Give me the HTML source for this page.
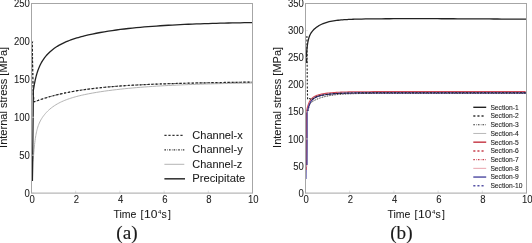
<!DOCTYPE html>
<html><head><meta charset="utf-8"><style>
html,body{margin:0;padding:0;background:#fff;}
body{width:532px;height:243px;overflow:hidden;}
svg{display:block;will-change:transform;}

</style></head><body>
<svg width="532" height="243" viewBox="0 0 532 243">
<rect width="532" height="243" fill="#fff"/>
<g class="t" font-family='"Liberation Sans", sans-serif' font-size="10.3" fill="#1a1a1a" stroke="#1a1a1a" stroke-width="0.06">
<path d="M32.40,181.00 L32.90,162.00 L33.30,159.56 L33.55,155.91 L33.80,152.63 L34.05,149.68 L34.30,147.02 L34.55,144.62 L34.80,142.45 L35.05,140.48 L35.30,138.68 L35.55,137.05 L35.80,135.56 L36.05,134.19 L36.30,132.93 L36.55,131.76 L36.80,130.69 L37.05,129.69 L37.30,128.76 L37.80,127.08 L38.30,125.60 L38.80,124.27 L39.30,123.08 L39.80,121.99 L40.30,120.99 L40.80,120.06 L41.30,119.19 L41.80,118.37 L42.30,117.60 L42.80,116.87 L43.30,116.17 L43.80,115.50 L44.30,114.86 L44.80,114.25 L45.30,113.66 L45.80,113.09 L46.30,112.54 L46.80,112.01 L47.30,111.50 L47.80,111.01 L48.30,110.53 L49.80,109.17 L51.30,107.94 L52.80,106.81 L54.30,105.77 L55.80,104.81 L57.30,103.93 L58.80,103.11 L60.30,102.34 L61.80,101.63 L63.30,100.97 L64.80,100.34 L66.30,99.76 L67.80,99.21 L69.30,98.68 L70.80,98.19 L72.30,97.72 L73.80,97.28 L75.30,96.86 L76.80,96.45 L78.30,96.06 L79.80,95.69 L81.30,95.34 L82.80,95.00 L84.30,94.67 L88.30,93.85 L92.30,93.10 L96.30,92.41 L100.30,91.77 L104.30,91.18 L108.30,90.63 L112.30,90.11 L116.30,89.63 L120.30,89.18 L124.30,88.76 L128.30,88.36 L132.30,87.99 L136.30,87.64 L140.30,87.31 L144.30,87.00 L148.30,86.71 L152.30,86.44 L156.30,86.18 L160.30,85.94 L164.30,85.71 L168.30,85.50 L172.30,85.30 L176.30,85.11 L180.30,84.93 L184.30,84.76 L188.30,84.60 L192.30,84.45 L196.30,84.32 L200.30,84.18 L204.30,84.06 L208.30,83.94 L212.30,83.83 L216.30,83.73 L220.30,83.63 L224.30,83.54 L228.30,83.46 L232.30,83.38 L236.30,83.30 L240.30,83.23 L244.30,83.16 L248.30,83.10 L252.00,83.04" fill="none" stroke="#b4b4b4" stroke-width="1"/>
<path d="M32.30,41.00 L32.50,60.00 L32.90,80.00 L33.40,95.00 L33.90,101.47 L34.15,101.68 L34.40,101.72 L34.65,101.67 L34.90,101.60 L35.15,101.51 L35.40,101.42 L35.65,101.33 L35.90,101.24 L36.15,101.14 L36.40,101.05 L36.65,100.96 L36.90,100.86 L37.15,100.77 L37.40,100.68 L37.65,100.59 L37.90,100.50 L38.40,100.32 L38.90,100.14 L39.40,99.97 L39.90,99.79 L40.40,99.62 L40.90,99.45 L41.40,99.28 L41.90,99.11 L42.40,98.95 L42.90,98.79 L43.40,98.62 L43.90,98.46 L44.40,98.30 L44.90,98.15 L45.40,97.99 L45.90,97.84 L46.40,97.69 L46.90,97.54 L47.40,97.39 L47.90,97.24 L48.40,97.09 L48.90,96.95 L50.40,96.52 L51.90,96.11 L53.40,95.71 L54.90,95.32 L56.40,94.94 L57.90,94.58 L59.40,94.22 L60.90,93.88 L62.40,93.55 L63.90,93.22 L65.40,92.91 L66.90,92.61 L68.40,92.31 L69.90,92.02 L71.40,91.74 L72.90,91.47 L74.40,91.21 L75.90,90.96 L77.40,90.71 L78.90,90.47 L80.40,90.24 L81.90,90.01 L83.40,89.80 L84.90,89.58 L88.90,89.05 L92.90,88.55 L96.90,88.09 L100.90,87.66 L104.90,87.27 L108.90,86.91 L112.90,86.57 L116.90,86.25 L120.90,85.96 L124.90,85.69 L128.90,85.44 L132.90,85.21 L136.90,84.99 L140.90,84.79 L144.90,84.60 L148.90,84.42 L152.90,84.25 L156.90,84.10 L160.90,83.95 L164.90,83.82 L168.90,83.69 L172.90,83.57 L176.90,83.45 L180.90,83.35 L184.90,83.25 L188.90,83.15 L192.90,83.06 L196.90,82.97 L200.90,82.89 L204.90,82.81 L208.90,82.73 L212.90,82.66 L216.90,82.59 L220.90,82.53 L224.90,82.46 L228.90,82.40 L232.90,82.34 L236.90,82.28 L240.90,82.23 L244.90,82.17 L248.90,82.12 L252.00,82.08" fill="none" stroke="#666" stroke-width="1.0" stroke-dasharray="1.6,1.3,0.6,1.1"/>
<path d="M32.30,41.00 L32.50,60.00 L32.90,80.00 L33.40,95.00 L33.90,101.47 L34.15,101.68 L34.40,101.72 L34.65,101.67 L34.90,101.60 L35.15,101.51 L35.40,101.42 L35.65,101.33 L35.90,101.24 L36.15,101.14 L36.40,101.05 L36.65,100.96 L36.90,100.86 L37.15,100.77 L37.40,100.68 L37.65,100.59 L37.90,100.50 L38.40,100.32 L38.90,100.14 L39.40,99.97 L39.90,99.79 L40.40,99.62 L40.90,99.45 L41.40,99.28 L41.90,99.11 L42.40,98.95 L42.90,98.79 L43.40,98.62 L43.90,98.46 L44.40,98.30 L44.90,98.15 L45.40,97.99 L45.90,97.84 L46.40,97.69 L46.90,97.54 L47.40,97.39 L47.90,97.24 L48.40,97.09 L48.90,96.95 L50.40,96.52 L51.90,96.11 L53.40,95.71 L54.90,95.32 L56.40,94.94 L57.90,94.58 L59.40,94.22 L60.90,93.88 L62.40,93.55 L63.90,93.22 L65.40,92.91 L66.90,92.61 L68.40,92.31 L69.90,92.02 L71.40,91.74 L72.90,91.47 L74.40,91.21 L75.90,90.96 L77.40,90.71 L78.90,90.47 L80.40,90.24 L81.90,90.01 L83.40,89.80 L84.90,89.58 L88.90,89.05 L92.90,88.55 L96.90,88.09 L100.90,87.66 L104.90,87.27 L108.90,86.91 L112.90,86.57 L116.90,86.25 L120.90,85.96 L124.90,85.69 L128.90,85.44 L132.90,85.21 L136.90,84.99 L140.90,84.79 L144.90,84.60 L148.90,84.42 L152.90,84.25 L156.90,84.10 L160.90,83.95 L164.90,83.82 L168.90,83.69 L172.90,83.57 L176.90,83.45 L180.90,83.35 L184.90,83.25 L188.90,83.15 L192.90,83.06 L196.90,82.97 L200.90,82.89 L204.90,82.81 L208.90,82.73 L212.90,82.66 L216.90,82.59 L220.90,82.53 L224.90,82.46 L228.90,82.40 L232.90,82.34 L236.90,82.28 L240.90,82.23 L244.90,82.17 L248.90,82.12 L252.00,82.08" fill="none" stroke="#222" stroke-width="1.2" stroke-dasharray="2.2,1.8"/>
<path d="M32.40,181.00 L32.90,140.00 L33.20,110.00 L33.30,90.77 L33.55,89.12 L33.80,87.56 L34.05,86.08 L34.30,84.68 L34.55,83.35 L34.80,82.09 L35.05,80.89 L35.30,79.75 L35.55,78.66 L35.80,77.62 L36.05,76.63 L36.30,75.69 L36.55,74.78 L36.80,73.91 L37.05,73.09 L37.30,72.29 L37.80,70.79 L38.30,69.40 L38.80,68.12 L39.30,66.91 L39.80,65.79 L40.30,64.74 L40.80,63.75 L41.30,62.81 L41.80,61.92 L42.30,61.08 L42.80,60.29 L43.30,59.52 L43.80,58.80 L44.30,58.10 L44.80,57.43 L45.30,56.79 L45.80,56.18 L46.30,55.58 L46.80,55.01 L47.30,54.46 L47.80,53.93 L48.30,53.41 L49.80,51.96 L51.30,50.64 L52.80,49.43 L54.30,48.31 L55.80,47.28 L57.30,46.32 L58.80,45.42 L60.30,44.59 L61.80,43.80 L63.30,43.07 L64.80,42.37 L66.30,41.72 L67.80,41.10 L69.30,40.51 L70.80,39.95 L72.30,39.42 L73.80,38.91 L75.30,38.42 L76.80,37.95 L78.30,37.51 L79.80,37.08 L81.30,36.67 L82.80,36.27 L84.30,35.88 L88.30,34.93 L92.30,34.05 L96.30,33.24 L100.30,32.49 L104.30,31.80 L108.30,31.16 L112.30,30.55 L116.30,29.99 L120.30,29.47 L124.30,28.98 L128.30,28.52 L132.30,28.09 L136.30,27.69 L140.30,27.31 L144.30,26.96 L148.30,26.63 L152.30,26.32 L156.30,26.03 L160.30,25.76 L164.30,25.50 L168.30,25.26 L172.30,25.03 L176.30,24.82 L180.30,24.63 L184.30,24.44 L188.30,24.27 L192.30,24.10 L196.30,23.95 L200.30,23.80 L204.30,23.67 L208.30,23.54 L212.30,23.42 L216.30,23.31 L220.30,23.21 L224.30,23.11 L228.30,23.02 L232.30,22.93 L236.30,22.85 L240.30,22.78 L244.30,22.71 L248.30,22.64 L252.00,22.58" fill="none" stroke="#222" stroke-width="1.3"/>
<line x1="31.50" y1="193.10" x2="34.00" y2="193.10" stroke="#dcdcdc" stroke-width="0.7"/>
<line x1="31.50" y1="155.18" x2="34.00" y2="155.18" stroke="#dcdcdc" stroke-width="0.7"/>
<line x1="31.50" y1="117.26" x2="34.00" y2="117.26" stroke="#dcdcdc" stroke-width="0.7"/>
<line x1="31.50" y1="79.34" x2="34.00" y2="79.34" stroke="#dcdcdc" stroke-width="0.7"/>
<line x1="31.50" y1="41.42" x2="34.00" y2="41.42" stroke="#dcdcdc" stroke-width="0.7"/>
<line x1="31.50" y1="3.50" x2="34.00" y2="3.50" stroke="#dcdcdc" stroke-width="0.7"/>
<line x1="31.50" y1="193.10" x2="31.50" y2="190.60" stroke="#d4d4d4" stroke-width="0.7"/>
<line x1="75.70" y1="193.10" x2="75.70" y2="190.60" stroke="#d4d4d4" stroke-width="0.7"/>
<line x1="119.90" y1="193.10" x2="119.90" y2="190.60" stroke="#d4d4d4" stroke-width="0.7"/>
<line x1="164.10" y1="193.10" x2="164.10" y2="190.60" stroke="#d4d4d4" stroke-width="0.7"/>
<line x1="208.30" y1="193.10" x2="208.30" y2="190.60" stroke="#d4d4d4" stroke-width="0.7"/>
<line x1="252.50" y1="193.10" x2="252.50" y2="190.60" stroke="#d4d4d4" stroke-width="0.7"/>
<rect x="31.50" y="3.50" width="221.00" height="189.60" fill="none" stroke="#a6a6a6" stroke-width="1"/>
<text x="29.9" y="196.75" text-anchor="end" textLength="5.3" lengthAdjust="spacingAndGlyphs">0</text>
<text x="29.9" y="158.83" text-anchor="end" textLength="10.6" lengthAdjust="spacingAndGlyphs">50</text>
<text x="29.9" y="120.91" text-anchor="end" textLength="15.9" lengthAdjust="spacingAndGlyphs">100</text>
<text x="29.9" y="82.99" text-anchor="end" textLength="15.9" lengthAdjust="spacingAndGlyphs">150</text>
<text x="29.9" y="45.07" text-anchor="end" textLength="15.9" lengthAdjust="spacingAndGlyphs">200</text>
<text x="29.9" y="7.15" text-anchor="end" textLength="15.9" lengthAdjust="spacingAndGlyphs">250</text>
<text x="32.20" y="203.0" text-anchor="middle" textLength="5.3" lengthAdjust="spacingAndGlyphs">0</text>
<text x="76.40" y="203.0" text-anchor="middle" textLength="5.3" lengthAdjust="spacingAndGlyphs">2</text>
<text x="120.60" y="203.0" text-anchor="middle" textLength="5.3" lengthAdjust="spacingAndGlyphs">4</text>
<text x="164.80" y="203.0" text-anchor="middle" textLength="5.3" lengthAdjust="spacingAndGlyphs">6</text>
<text x="209.00" y="203.0" text-anchor="middle" textLength="5.3" lengthAdjust="spacingAndGlyphs">8</text>
<text x="253.20" y="203.0" text-anchor="middle" textLength="10.6" lengthAdjust="spacingAndGlyphs">10</text>
<path d="M306.70,63.00 L306.60,52.66 L306.85,49.87 L307.10,47.50 L307.35,45.47 L307.60,43.74 L307.85,42.24 L308.10,40.94 L308.35,39.81 L308.60,38.81 L308.85,37.93 L309.10,37.15 L309.35,36.45 L309.60,35.81 L309.85,35.23 L310.10,34.70 L310.35,34.21 L310.60,33.75 L311.10,32.93 L311.60,32.19 L312.10,31.53 L312.60,30.92 L313.10,30.35 L313.60,29.82 L314.10,29.32 L314.60,28.85 L315.10,28.41 L315.60,27.99 L316.10,27.59 L316.60,27.21 L317.10,26.84 L317.60,26.50 L318.10,26.17 L318.60,25.85 L319.10,25.55 L319.60,25.26 L320.10,24.99 L320.60,24.73 L321.10,24.48 L321.60,24.24 L323.10,23.59 L324.60,23.02 L326.10,22.53 L327.60,22.09 L329.10,21.71 L330.60,21.38 L332.10,21.09 L333.60,20.84 L335.10,20.61 L336.60,20.41 L338.10,20.24 L339.60,20.08 L341.10,19.95 L342.60,19.82 L344.10,19.72 L345.60,19.62 L347.10,19.53 L348.60,19.46 L350.10,19.39 L351.60,19.33 L353.10,19.27 L354.60,19.22 L356.10,19.17 L357.60,19.13 L361.60,19.03 L365.60,18.96 L369.60,18.90 L373.60,18.85 L377.60,18.81 L381.60,18.78 L385.60,18.75 L389.60,18.73 L393.60,18.71 L397.60,18.70 L401.60,18.69 L405.60,18.68 L409.60,18.68 L413.60,18.68 L417.60,18.68 L421.60,18.68 L425.60,18.69 L429.60,18.70 L433.60,18.70 L437.60,18.72 L441.60,18.73 L445.60,18.74 L449.60,18.76 L453.60,18.77 L457.60,18.79 L461.60,18.81 L465.60,18.83 L469.60,18.85 L473.60,18.87 L477.60,18.89 L481.60,18.91 L485.60,18.94 L489.60,18.96 L493.60,18.98 L497.60,19.01 L501.60,19.03 L505.60,19.06 L509.60,19.09 L513.60,19.11 L517.60,19.14 L521.60,19.17 L525.60,19.20 L526.00,19.20" fill="none" stroke="#222" stroke-width="1.3"/>
<path d="M308.20,110.76 L308.45,109.27 L308.70,108.05 L308.95,107.04 L309.20,106.20 L309.45,105.49 L309.70,104.90 L309.95,104.39 L310.20,103.96 L310.45,103.58 L310.70,103.25 L310.95,102.95 L311.20,102.68 L311.45,102.44 L311.70,102.21 L311.95,102.01 L312.20,101.81 L312.70,101.45 L313.20,101.13 L313.70,100.83 L314.20,100.55 L314.70,100.28 L315.20,100.02 L315.70,99.78 L316.20,99.54 L316.70,99.32 L317.20,99.10 L317.70,98.89 L318.20,98.69 L318.70,98.49 L319.20,98.30 L319.70,98.12 L320.20,97.94 L320.70,97.78 L321.20,97.61 L321.70,97.45 L322.20,97.30 L322.70,97.16 L323.20,97.01 L324.70,96.62 L326.20,96.26 L327.70,95.94 L329.20,95.66 L330.70,95.40 L332.20,95.17 L333.70,94.97 L335.20,94.79 L336.70,94.62 L338.20,94.48 L339.70,94.35 L341.20,94.23 L342.70,94.13 L344.20,94.04 L345.70,93.95 L347.20,93.88 L348.70,93.82 L350.20,93.76 L351.70,93.71 L353.20,93.67 L354.70,93.63 L356.20,93.60 L357.70,93.57 L359.20,93.54 L363.20,93.49 L367.20,93.45 L371.20,93.42 L375.20,93.41 L379.20,93.40 L383.20,93.40 L387.20,93.39 L391.20,93.39 L395.20,93.40 L399.20,93.40 L403.20,93.40 L407.20,93.40 L411.20,93.41 L415.20,93.41 L419.20,93.41 L423.20,93.41 L427.20,93.42 L431.20,93.42 L435.20,93.42 L439.20,93.42 L443.20,93.42 L447.20,93.42 L451.20,93.42 L455.20,93.42 L459.20,93.43 L463.20,93.43 L467.20,93.43 L471.20,93.43 L475.20,93.43 L479.20,93.43 L483.20,93.43 L487.20,93.43 L491.20,93.43 L495.20,93.43 L499.20,93.43 L503.20,93.43 L507.20,93.43 L511.20,93.43 L515.20,93.43 L519.20,93.43 L523.20,93.43 L526.00,93.43" fill="none" stroke="#c4c4c4" stroke-width="1"/>
<path d="M308.20,110.76 L308.45,109.27 L308.70,108.05 L308.95,107.04 L309.20,106.20 L309.45,105.49 L309.70,104.90 L309.95,104.39 L310.20,103.96 L310.45,103.58 L310.70,103.25 L310.95,102.95 L311.20,102.68 L311.45,102.44 L311.70,102.21 L311.95,102.01 L312.20,101.81 L312.70,101.45 L313.20,101.13 L313.70,100.83 L314.20,100.55 L314.70,100.28 L315.20,100.02 L315.70,99.78 L316.20,99.54 L316.70,99.32 L317.20,99.10 L317.70,98.89 L318.20,98.69 L318.70,98.49 L319.20,98.30 L319.70,98.12 L320.20,97.94 L320.70,97.78 L321.20,97.61 L321.70,97.45 L322.20,97.30 L322.70,97.16 L323.20,97.01 L324.70,96.62 L326.20,96.26 L327.70,95.94 L329.20,95.66 L330.70,95.40 L332.20,95.17 L333.70,94.97 L335.20,94.79 L336.70,94.62 L338.20,94.48 L339.70,94.35 L341.20,94.23 L342.70,94.13 L344.20,94.04 L345.70,93.95 L347.20,93.88 L348.70,93.82 L350.20,93.76 L351.70,93.71 L353.20,93.67 L354.70,93.63 L356.20,93.60 L357.70,93.57 L359.20,93.54 L363.20,93.49 L367.20,93.45 L371.20,93.42 L375.20,93.41 L379.20,93.40 L383.20,93.40 L387.20,93.39 L391.20,93.39 L395.20,93.40 L399.20,93.40 L403.20,93.40 L407.20,93.40 L411.20,93.41 L415.20,93.41 L419.20,93.41 L423.20,93.41 L427.20,93.42 L431.20,93.42 L435.20,93.42 L439.20,93.42 L443.20,93.42 L447.20,93.42 L451.20,93.42 L455.20,93.42 L459.20,93.43 L463.20,93.43 L467.20,93.43 L471.20,93.43 L475.20,93.43 L479.20,93.43 L483.20,93.43 L487.20,93.43 L491.20,93.43 L495.20,93.43 L499.20,93.43 L503.20,93.43 L507.20,93.43 L511.20,93.43 L515.20,93.43 L519.20,93.43 L523.20,93.43 L526.00,93.43" fill="none" stroke="#333" stroke-width="1" stroke-dasharray="1,1.6"/>
<path d="M306.3,179 L306.5,160" fill="none" stroke="#8a86c4" stroke-width="1.2"/>
<path d="M306.20,170.00 L306.30,140.00 L306.40,112.02 L306.65,110.71 L306.90,109.52 L307.15,108.43 L307.40,107.42 L307.65,106.50 L307.90,105.66 L308.15,104.88 L308.40,104.17 L308.65,103.51 L308.90,102.90 L309.15,102.34 L309.40,101.83 L309.65,101.35 L309.90,100.91 L310.15,100.49 L310.40,100.11 L310.90,99.43 L311.40,98.83 L311.90,98.31 L312.40,97.86 L312.90,97.45 L313.40,97.09 L313.90,96.77 L314.40,96.48 L314.90,96.22 L315.40,95.98 L315.90,95.76 L316.40,95.56 L316.90,95.37 L317.40,95.19 L317.90,95.03 L318.40,94.88 L318.90,94.74 L319.40,94.60 L319.90,94.48 L320.40,94.36 L320.90,94.24 L321.40,94.13 L322.90,93.84 L324.40,93.58 L325.90,93.36 L327.40,93.16 L328.90,92.99 L330.40,92.83 L331.90,92.69 L333.40,92.57 L334.90,92.47 L336.40,92.37 L337.90,92.29 L339.40,92.21 L340.90,92.15 L342.40,92.09 L343.90,92.04 L345.40,91.99 L346.90,91.95 L348.40,91.91 L349.90,91.88 L351.40,91.85 L352.90,91.83 L354.40,91.80 L355.90,91.78 L357.40,91.77 L361.40,91.73 L365.40,91.70 L369.40,91.68 L373.40,91.67 L377.40,91.65 L381.40,91.65 L385.40,91.64 L389.40,91.64 L393.40,91.63 L397.40,91.63 L401.40,91.63 L405.40,91.63 L409.40,91.63 L413.40,91.63 L417.40,91.63 L421.40,91.63 L425.40,91.63 L429.40,91.63 L433.40,91.63 L437.40,91.63 L441.40,91.63 L445.40,91.63 L449.40,91.63 L453.40,91.63 L457.40,91.63 L461.40,91.63 L465.40,91.63 L469.40,91.63 L473.40,91.63 L477.40,91.63 L481.40,91.63 L485.40,91.63 L489.40,91.63 L493.40,91.63 L497.40,91.63 L501.40,91.63 L505.40,91.63 L509.40,91.63 L513.40,91.63 L517.40,91.63 L521.40,91.63 L525.40,91.63 L525.60,91.63" fill="none" stroke="#d04a58" stroke-width="1.1"/>
<path d="M307.00,165.00 L307.10,140.00 L307.10,113.17 L307.35,111.86 L307.60,110.67 L307.85,109.58 L308.10,108.57 L308.35,107.65 L308.60,106.81 L308.85,106.03 L309.10,105.32 L309.35,104.66 L309.60,104.05 L309.85,103.49 L310.10,102.98 L310.35,102.50 L310.60,102.06 L310.85,101.64 L311.10,101.26 L311.60,100.58 L312.10,99.98 L312.60,99.46 L313.10,99.01 L313.60,98.60 L314.10,98.24 L314.60,97.92 L315.10,97.63 L315.60,97.37 L316.10,97.13 L316.60,96.91 L317.10,96.71 L317.60,96.52 L318.10,96.34 L318.60,96.18 L319.10,96.03 L319.60,95.89 L320.10,95.75 L320.60,95.63 L321.10,95.51 L321.60,95.39 L322.10,95.28 L323.60,94.99 L325.10,94.73 L326.60,94.51 L328.10,94.31 L329.60,94.14 L331.10,93.98 L332.60,93.84 L334.10,93.72 L335.60,93.62 L337.10,93.52 L338.60,93.44 L340.10,93.36 L341.60,93.30 L343.10,93.24 L344.60,93.19 L346.10,93.14 L347.60,93.10 L349.10,93.06 L350.60,93.03 L352.10,93.00 L353.60,92.98 L355.10,92.95 L356.60,92.93 L358.10,92.92 L362.10,92.88 L366.10,92.85 L370.10,92.83 L374.10,92.82 L378.10,92.80 L382.10,92.80 L386.10,92.79 L390.10,92.79 L394.10,92.78 L398.10,92.78 L402.10,92.78 L406.10,92.78 L410.10,92.78 L414.10,92.78 L418.10,92.78 L422.10,92.78 L426.10,92.78 L430.10,92.78 L434.10,92.78 L438.10,92.78 L442.10,92.78 L446.10,92.78 L450.10,92.78 L454.10,92.78 L458.10,92.78 L462.10,92.78 L466.10,92.78 L470.10,92.78 L474.10,92.78 L478.10,92.78 L482.10,92.78 L486.10,92.78 L490.10,92.78 L494.10,92.78 L498.10,92.78 L502.10,92.78 L506.10,92.78 L510.10,92.78 L514.10,92.78 L518.10,92.78 L522.10,92.78 L526.10,92.78 L526.30,92.78" fill="none" stroke="#3a3088" stroke-width="1.2"/>
<path d="M306.90,36.00 L307.10,60.00 L307.30,85.00 L307.60,99.20 L309.50,98.60 L312.00,99.77 L312.50,99.27 L313.00,98.84 L313.50,98.45 L314.00,98.11 L314.50,97.80 L315.00,97.52 L315.50,97.27 L316.00,97.04 L316.50,96.82 L317.00,96.63 L317.50,96.45 L318.00,96.28 L318.50,96.12 L319.00,95.97 L319.50,95.83 L320.00,95.70 L320.50,95.58 L321.00,95.46 L321.50,95.35 L322.00,95.24 L323.50,94.95 L325.00,94.70 L326.50,94.48 L328.00,94.29 L329.50,94.11 L331.00,93.96 L332.50,93.83 L334.00,93.71 L335.50,93.60 L337.00,93.51 L338.50,93.43 L340.00,93.35 L341.50,93.29 L343.00,93.23 L344.50,93.18 L346.00,93.13 L347.50,93.09 L349.00,93.06 L350.50,93.03 L352.00,93.00 L353.50,92.97 L355.00,92.95 L356.50,92.93 L358.00,92.91 L362.00,92.88 L366.00,92.85 L370.00,92.83 L374.00,92.81 L378.00,92.80 L382.00,92.80 L386.00,92.79 L390.00,92.79 L394.00,92.78 L398.00,92.78 L402.00,92.78 L406.00,92.78 L410.00,92.78 L414.00,92.78 L418.00,92.78 L422.00,92.78 L426.00,92.78 L430.00,92.78 L434.00,92.78 L438.00,92.78 L442.00,92.78 L446.00,92.78 L450.00,92.78 L454.00,92.78 L458.00,92.78 L462.00,92.78 L466.00,92.78 L470.00,92.78 L474.00,92.78 L478.00,92.78 L482.00,92.78 L486.00,92.78 L490.00,92.78 L494.00,92.78 L498.00,92.78 L502.00,92.78 L506.00,92.78 L510.00,92.78 L514.00,92.78 L518.00,92.78 L522.00,92.78 L526.00,92.78" fill="none" stroke="#222" stroke-width="1.1" stroke-dasharray="2,1.6"/>
<line x1="305.50" y1="193.10" x2="308.00" y2="193.10" stroke="#dcdcdc" stroke-width="0.7"/>
<line x1="305.50" y1="166.01" x2="308.00" y2="166.01" stroke="#dcdcdc" stroke-width="0.7"/>
<line x1="305.50" y1="138.93" x2="308.00" y2="138.93" stroke="#dcdcdc" stroke-width="0.7"/>
<line x1="305.50" y1="111.84" x2="308.00" y2="111.84" stroke="#dcdcdc" stroke-width="0.7"/>
<line x1="305.50" y1="84.76" x2="308.00" y2="84.76" stroke="#dcdcdc" stroke-width="0.7"/>
<line x1="305.50" y1="57.67" x2="308.00" y2="57.67" stroke="#dcdcdc" stroke-width="0.7"/>
<line x1="305.50" y1="30.59" x2="308.00" y2="30.59" stroke="#dcdcdc" stroke-width="0.7"/>
<line x1="305.50" y1="3.50" x2="308.00" y2="3.50" stroke="#dcdcdc" stroke-width="0.7"/>
<line x1="305.50" y1="193.10" x2="305.50" y2="190.60" stroke="#d4d4d4" stroke-width="0.7"/>
<line x1="349.70" y1="193.10" x2="349.70" y2="190.60" stroke="#d4d4d4" stroke-width="0.7"/>
<line x1="393.90" y1="193.10" x2="393.90" y2="190.60" stroke="#d4d4d4" stroke-width="0.7"/>
<line x1="438.10" y1="193.10" x2="438.10" y2="190.60" stroke="#d4d4d4" stroke-width="0.7"/>
<line x1="482.30" y1="193.10" x2="482.30" y2="190.60" stroke="#d4d4d4" stroke-width="0.7"/>
<line x1="526.50" y1="193.10" x2="526.50" y2="190.60" stroke="#d4d4d4" stroke-width="0.7"/>
<rect x="305.50" y="3.50" width="221.00" height="189.60" fill="none" stroke="#a6a6a6" stroke-width="1"/>
<text x="303.90" y="196.75" text-anchor="end" textLength="5.3" lengthAdjust="spacingAndGlyphs">0</text>
<text x="303.90" y="169.66" text-anchor="end" textLength="10.6" lengthAdjust="spacingAndGlyphs">50</text>
<text x="303.90" y="142.58" text-anchor="end" textLength="15.9" lengthAdjust="spacingAndGlyphs">100</text>
<text x="303.90" y="115.49" text-anchor="end" textLength="15.9" lengthAdjust="spacingAndGlyphs">150</text>
<text x="303.90" y="88.41" text-anchor="end" textLength="15.9" lengthAdjust="spacingAndGlyphs">200</text>
<text x="303.90" y="61.32" text-anchor="end" textLength="15.9" lengthAdjust="spacingAndGlyphs">250</text>
<text x="303.90" y="34.24" text-anchor="end" textLength="15.9" lengthAdjust="spacingAndGlyphs">300</text>
<text x="303.90" y="7.15" text-anchor="end" textLength="15.9" lengthAdjust="spacingAndGlyphs">350</text>
<text x="306.20" y="203.0" text-anchor="middle" textLength="5.3" lengthAdjust="spacingAndGlyphs">0</text>
<text x="350.40" y="203.0" text-anchor="middle" textLength="5.3" lengthAdjust="spacingAndGlyphs">2</text>
<text x="394.60" y="203.0" text-anchor="middle" textLength="5.3" lengthAdjust="spacingAndGlyphs">4</text>
<text x="438.80" y="203.0" text-anchor="middle" textLength="5.3" lengthAdjust="spacingAndGlyphs">6</text>
<text x="483.00" y="203.0" text-anchor="middle" textLength="5.3" lengthAdjust="spacingAndGlyphs">8</text>
<text x="527.20" y="203.0" text-anchor="middle" textLength="10.6" lengthAdjust="spacingAndGlyphs">10</text>
<text transform="translate(7.10,97.40) rotate(-90)" x="0" y="0" text-anchor="middle" font-size="10.3" textLength="101" lengthAdjust="spacingAndGlyphs">Internal stress [MPa]</text>
<text transform="translate(281.30,97.40) rotate(-90)" x="0" y="0" text-anchor="middle" font-size="10.3" textLength="101" lengthAdjust="spacingAndGlyphs">Internal stress [MPa]</text>
<text x="113.40" y="218.2" font-size="10.5" textLength="23.0" lengthAdjust="spacingAndGlyphs">Time</text>
<text x="140.50" y="218.2" font-size="10.5">[</text>
<text x="144.00" y="218.2" font-size="10.5" textLength="13.4" lengthAdjust="spacingAndGlyphs">10</text>
<text x="157.90" y="214.0" font-size="6.0">4</text>
<text x="161.50" y="218.2" font-size="10.5">s</text>
<text x="167.90" y="218.2" font-size="10.5">]</text>
<text x="387.40" y="218.2" font-size="10.5" textLength="23.0" lengthAdjust="spacingAndGlyphs">Time</text>
<text x="414.50" y="218.2" font-size="10.5">[</text>
<text x="418.00" y="218.2" font-size="10.5" textLength="13.4" lengthAdjust="spacingAndGlyphs">10</text>
<text x="431.90" y="214.0" font-size="6.0">4</text>
<text x="435.50" y="218.2" font-size="10.5">s</text>
<text x="441.90" y="218.2" font-size="10.5">]</text>
<text x="126.9" y="238.9" text-anchor="middle" font-family='"Liberation Serif", serif' font-size="19.2" stroke-width="0.15">(a)</text>
<text x="401.4" y="238.9" text-anchor="middle" font-family='"Liberation Serif", serif' font-size="19.2" stroke-width="0.15">(b)</text>
<line x1="164.4" y1="135.30" x2="184.3" y2="135.30" stroke="#333" stroke-width="1.3" stroke-dasharray="2.2,1.8"/>
<line x1="164.4" y1="149.80" x2="184.3" y2="149.80" stroke="#333" stroke-width="1.2" stroke-dasharray="1.6,1.3,0.6,1.1"/>
<line x1="164.4" y1="164.30" x2="184.3" y2="164.30" stroke="#b4b4b4" stroke-width="1"/>
<line x1="164.4" y1="178.80" x2="185.0" y2="178.80" stroke="#3a3a3a" stroke-width="1.6"/>
<text x="192.3" y="138.90" font-size="10.4" textLength="50.4" lengthAdjust="spacingAndGlyphs">Channel-x</text>
<text x="192.3" y="153.40" font-size="10.4" textLength="50.4" lengthAdjust="spacingAndGlyphs">Channel-y</text>
<text x="192.3" y="167.90" font-size="10.4" textLength="50.0" lengthAdjust="spacingAndGlyphs">Channel-z</text>
<text x="192.3" y="182.40" font-size="10.4" textLength="53.0" lengthAdjust="spacingAndGlyphs">Precipitate</text>
<line x1="473.3" y1="107.30" x2="486.2" y2="107.30" stroke="#222" stroke-width="1.40"/>
<text x="490.4" y="109.70" font-size="6.7" stroke-width="0.08">Section-1</text>
<line x1="473.3" y1="116.02" x2="485.0" y2="116.02" stroke="#333" stroke-width="1.60" stroke-dasharray="2.1,2.0"/>
<text x="490.4" y="118.42" font-size="6.7" stroke-width="0.08">Section-2</text>
<line x1="473.3" y1="124.74" x2="486.2" y2="124.74" stroke="#333" stroke-width="1.20" stroke-dasharray="1.6,1.3,0.6,1.1"/>
<text x="490.4" y="127.14" font-size="6.7" stroke-width="0.08">Section-3</text>
<line x1="473.3" y1="133.46" x2="486.2" y2="133.46" stroke="#b0b0b0" stroke-width="0.90"/>
<text x="490.4" y="135.86" font-size="6.7" stroke-width="0.08">Section-4</text>
<line x1="473.3" y1="142.18" x2="486.2" y2="142.18" stroke="#c8404d" stroke-width="1.50"/>
<text x="490.4" y="144.58" font-size="6.7" stroke-width="0.08">Section-5</text>
<line x1="473.3" y1="150.90" x2="485.0" y2="150.90" stroke="#c8404d" stroke-width="1.50" stroke-dasharray="2.1,2.0"/>
<text x="490.4" y="153.30" font-size="6.7" stroke-width="0.08">Section-6</text>
<line x1="473.3" y1="159.62" x2="486.2" y2="159.62" stroke="#c8404d" stroke-width="1.20" stroke-dasharray="1.6,1.3,0.6,1.1"/>
<text x="490.4" y="162.02" font-size="6.7" stroke-width="0.08">Section-7</text>
<line x1="473.3" y1="168.34" x2="486.2" y2="168.34" stroke="#e9a3ad" stroke-width="1.00"/>
<text x="490.4" y="170.74" font-size="6.7" stroke-width="0.08">Section-8</text>
<line x1="473.3" y1="177.06" x2="486.2" y2="177.06" stroke="#5753a6" stroke-width="1.50"/>
<text x="490.4" y="179.46" font-size="6.7" stroke-width="0.08">Section-9</text>
<line x1="473.3" y1="185.78" x2="485.0" y2="185.78" stroke="#5753a6" stroke-width="1.50" stroke-dasharray="2.1,2.0"/>
<text x="490.4" y="188.18" font-size="6.7" stroke-width="0.08">Section-10</text>
</g>
</svg>
</body></html>
